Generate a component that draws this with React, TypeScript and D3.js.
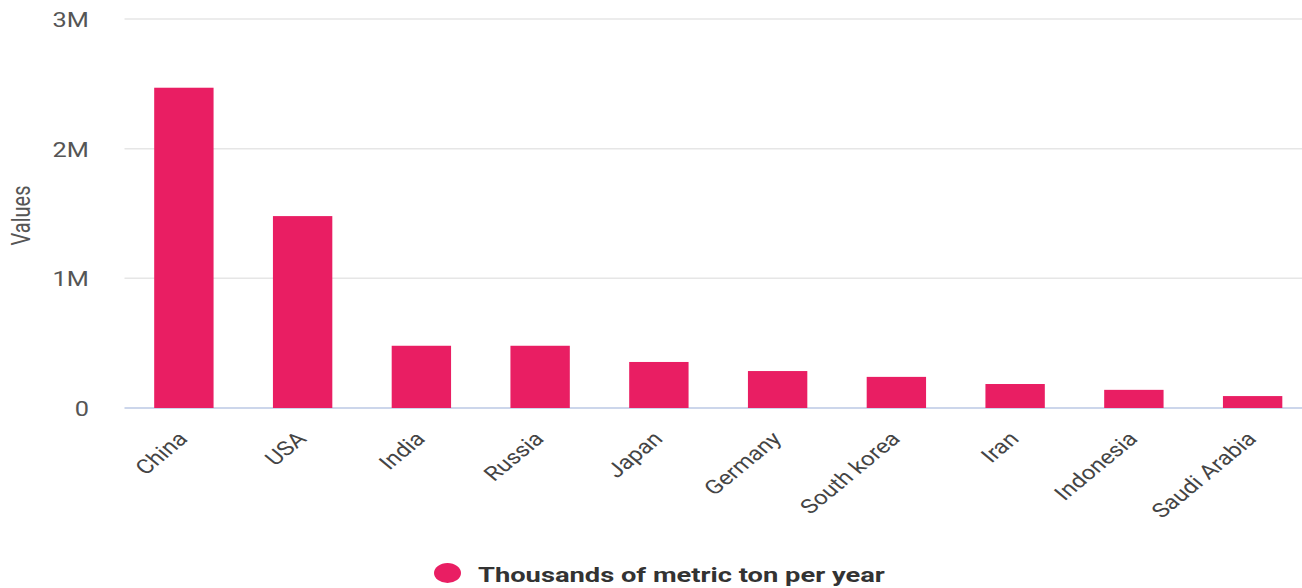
import React from "react";
import * as d3 from "d3";

const categories = ["China", "USA", "India", "Russia", "Japan", "Germany", "South korea", "Iran", "Indonesia", "Saudi Arabia"];
const values = [2470000, 1480000, 480000, 480000, 355000, 285000, 240000, 185000, 140000, 92000];
const yTicks = [0, 1000000, 2000000, 3000000];
const seriesName = "Thousands of metric ton per year";
const yAxisTitle = "Values";

const W = 1302;
const H = 588;
const left = 124.5;
const right = 1312;
const top = 19;
const bottom = 408;
const color = "#e91e63";
const SX = 1.3;
const LSX = 1.21;

export default function App() {
  const x = d3.scaleBand<string>().domain(categories).range([left, right]).paddingInner(0.5).paddingOuter(0.25);
  const y = d3.scaleLinear().domain([0, 3000000]).range([bottom, top]);
  const fmt = (v: number) => (v === 0 ? "0" : d3.format("~s")(v));
  return (
    <svg width={W} height={H} style={{ position: "absolute", left: 0, top: 0, fontFamily: "Roboto, sans-serif" }}>
      {yTicks.map((t) => (
        <g key={t}>
          <line x1={left} x2={W} y1={y(t)} y2={y(t)} stroke={t === 0 ? "#ccd6eb" : "#e6e6e6"} strokeWidth={t === 0 ? 2 : 1.5} />
          <text transform={`translate(89,${y(t) + 1}) scale(${SX},1)`} dy="0.36em" textAnchor="end" fontSize={19.5} fill="#555">{fmt(t)}</text>
        </g>
      ))}
      <text transform={`translate(30,${(top + bottom) / 2 + 2}) scale(${SX},1) rotate(-90)`} textAnchor="middle" fontSize={20} fill="#555">{yAxisTitle}</text>
      {categories.map((c, i) => (
        <rect key={c} x={x(c)} y={y(values[i])} width={x.bandwidth()} height={bottom - y(values[i])} fill={color} />
      ))}
      {categories.map((c) => {
        const cx = (x(c) as number) + x.bandwidth() / 2 + 5;
        return (
          <text key={c} transform={`translate(${cx},${bottom + 32}) scale(${LSX},1) rotate(-45)`} textAnchor="end" fontSize={20} fill="#444">{c}</text>
        );
      })}
      <ellipse cx={447.5} cy={573} rx={13.5} ry={10} fill={color} />
      <text transform={`translate(478,582) scale(${SX},1)`} fontSize={21} fontWeight="bold" fill="#333">{seriesName}</text>
    </svg>
  );
}
